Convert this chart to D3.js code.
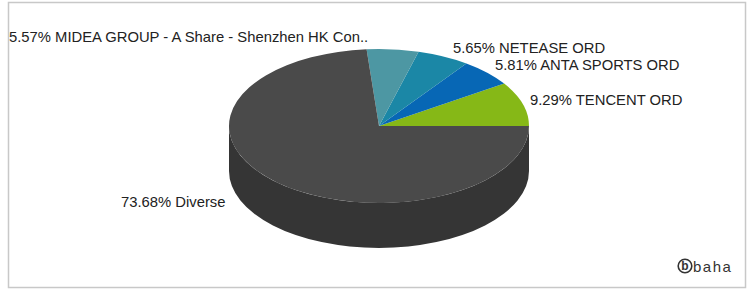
<html>
<head>
<meta charset="UTF-8">
<title>Holdings pie</title>
<style type="text/css">
  body { margin: 0; background-color: #fff; }
  svg { display: block; }
  .label { font-family: "Liberation Sans", Arial, sans-serif; font-size: 14.8px; fill: #222; }
  .logo { font-family: "Liberation Sans", Arial, sans-serif; fill: #333; }
</style>
<script src="https://cdnjs.cloudflare.com/ajax/libs/d3/7.8.5/d3.min.js"></script>
</head>
<body>
<div id="chart"></div>
<script type="text/javascript">
  // data, in drawing order (counterclockwise from 3 o'clock)
  var names = ["TENCENT ORD", "ANTA SPORTS ORD", "NETEASE ORD", "MIDEA GROUP - A Share - Shenzhen HK Con..", "Diverse"];
  var shares = [9.29, 5.81, 5.65, 5.57, 73.68];
  var colors = ["#86b817", "#0767b5", "#1b87a6", "#4d97a3", "#4a4a4a"];

  var width = 752, height = 291;
  var cx = 379, cy = 126, rx = 150, ry = 77, depth = 45;

  // where each label sits (left x, baseline y)
  var labelAt = [[530, 105], [495, 70], [453, 53], [9, 42], [121, 207]];

  var svg = d3.select("#chart").append("svg")
    .attr("width", width).attr("height", height);

  svg.append("rect")
    .attr("x", 8.5).attr("y", 2.5)
    .attr("width", 737).attr("height", 285)
    .attr("fill", "#fff").attr("stroke", "#c8c8c8").attr("stroke-width", 1.5);

  var data = shares.map(function(v, i) { return { name: names[i], value: v, color: colors[i] }; });

  // negative span -> counterclockwise
  var pie = d3.pie().sort(null).value(function(d) { return d.value; })
    .startAngle(Math.PI / 2).endAngle(Math.PI / 2 - 2 * Math.PI);
  var arcs = pie(data);

  function pt(a, dy) {
    return [cx + rx * Math.sin(a), cy - ry * Math.cos(a) + (dy || 0)];
  }

  // side wall (only the front half shows, all of it is Diverse)
  var l = pt(-Math.PI / 2), r = pt(Math.PI / 2);
  svg.append("path")
    .attr("d", "M" + l + " L" + pt(-Math.PI / 2, depth) +
      " A" + rx + " " + ry + " 0 0 0 " + pt(Math.PI / 2, depth) +
      " L" + r + " A" + rx + " " + ry + " 0 0 1 " + l + " Z")
    .attr("fill", "#353535");

  // top faces
  svg.selectAll(".slice").data(arcs).enter()
    .append("path")
    .attr("class", "slice")
    .attr("d", function(d) {
      var p0 = pt(d.startAngle), p1 = pt(d.endAngle);
      var big = Math.abs(d.endAngle - d.startAngle) > Math.PI ? 1 : 0;
      return "M" + cx + "," + cy + " L" + p0 + " A" + rx + " " + ry + " 0 " + big + " 0 " + p1 + " Z";
    })
    .attr("fill", function(d) { return d.data.color; });

  svg.selectAll(".label").data(arcs).enter()
    .append("text")
    .attr("class", "label")
    .attr("x", function(d, i) { return labelAt[i][0]; })
    .attr("y", function(d, i) { return labelAt[i][1]; })
    .text(function(d) { return d.data.value.toFixed(2) + "% " + d.data.name; });

  // logo
  var logo = svg.append("g").attr("transform", "translate(685,266)");
  logo.append("circle").attr("r", 6.8).attr("fill", "none").attr("stroke", "#333").attr("stroke-width", 1.6);
  logo.append("text").attr("class", "logo").attr("text-anchor", "middle").attr("y", 4.3)
    .style("font-size", "12px").style("font-weight", "bold").text("b");
  logo.append("text").attr("class", "logo").attr("x", 8).attr("y", 5.5)
    .style("font-size", "15px").style("letter-spacing", "1.5px").text("baha");
</script>
</body>
</html>
